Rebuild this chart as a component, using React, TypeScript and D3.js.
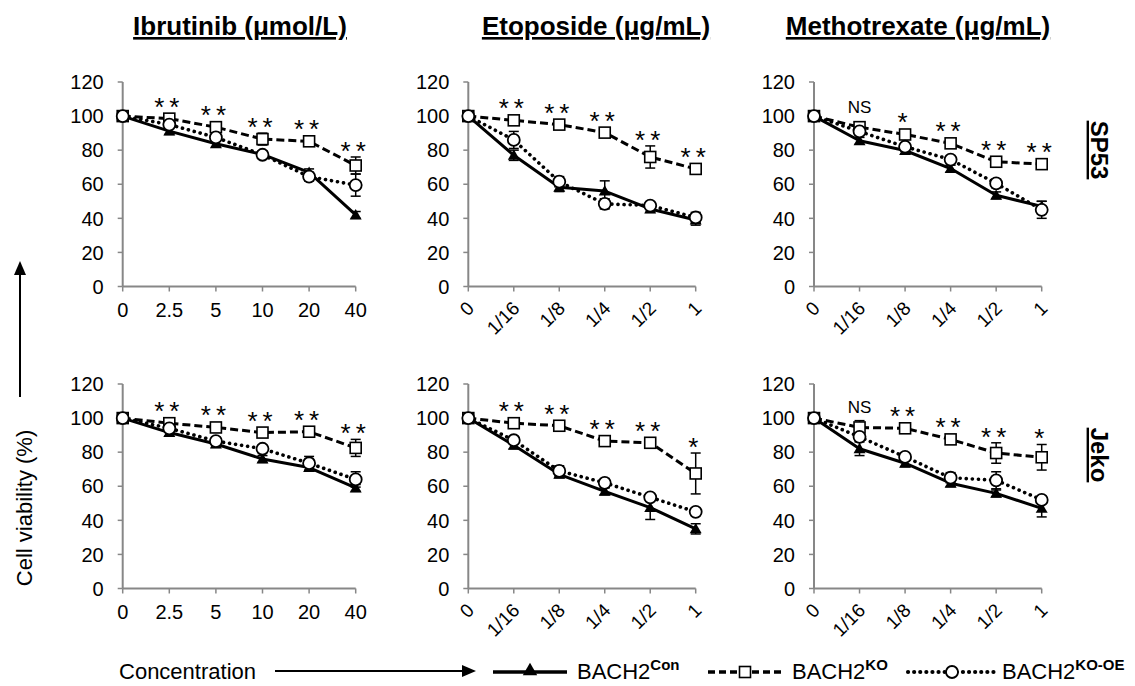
import React from 'react'
import * as d3 from 'd3'

// dose labels on the x axis
const ibrutinibDoses = ['0', '2.5', '5', '10', '20', '40']
const fractionDoses = ['0', '1/16', '1/8', '1/4', '1/2', '1']

const drugTitles = ['Ibrutinib (μmol/L)', 'Etoposide (μg/mL)', 'Methotrexate (μg/mL)']
const cellLines = ['SP53', 'Jeko']
const yTicks = [0, 20, 40, 60, 80, 100, 120]

// SP53
const sp53IbrCon = [100, 91.2, 83.8, 77.5, 67, 42]
const sp53IbrConErr = [0, 2, 2, 2, 2, 2]
const sp53IbrKo = [100, 98.5, 93.5, 86.5, 85.2, 71]
const sp53IbrKoErr = [0, 2, 2, 3.5, 2, 5]
const sp53IbrOe = [100, 95, 87.5, 77.3, 64.5, 59.5]
const sp53IbrOeErr = [0, 2, 2, 2, 2.5, 6.5]
const sp53IbrSig = ['', '**', '**', '**', '**', '**']

const sp53EtoCon = [100, 77, 58.2, 56, 45.5, 39]
const sp53EtoConErr = [0, 3, 2.5, 6, 2, 3]
const sp53EtoKo = [100, 97.5, 95, 90.3, 76, 69]
const sp53EtoKoErr = [0, 2, 1.5, 2, 6.5, 1.5]
const sp53EtoOe = [100, 86, 61.5, 48.5, 47.5, 40.5]
const sp53EtoOeErr = [0, 5, 3, 3, 2, 3]
const sp53EtoSig = ['', '**', '**', '**', '**', '**']

const sp53MtxCon = [100, 85.5, 79.8, 69.2, 53.5, 47]
const sp53MtxConErr = [0, 2, 2, 2, 2, 3]
const sp53MtxKo = [100, 93.5, 89.2, 84, 73.2, 71.8]
const sp53MtxKoErr = [0, 1.5, 1.5, 1.5, 1.5, 1.5]
const sp53MtxOe = [100, 91, 82, 74.5, 60.5, 45]
const sp53MtxOeErr = [0, 2, 2, 2, 2.5, 5]
const sp53MtxSig = ['', 'NS', '*', '**', '**', '**']

// Jeko
const jekoIbrCon = [100, 91.5, 84.8, 76, 71, 59]
const jekoIbrConErr = [0, 2, 2, 2, 2, 2]
const jekoIbrKo = [100, 97, 94.5, 91.5, 92, 82.5]
const jekoIbrKoErr = [0, 2, 1.5, 2, 1.5, 5]
const jekoIbrOe = [100, 94, 86.5, 82, 73.5, 64]
const jekoIbrOeErr = [0, 2, 2, 2, 4, 4.5]
const jekoIbrSig = ['', '**', '**', '**', '**', '**']

const jekoEtoCon = [100, 84, 67, 57, 47.5, 35]
const jekoEtoConErr = [0, 2, 2, 2, 7, 3]
const jekoEtoKo = [100, 97, 95.5, 86.5, 85.5, 67.5]
const jekoEtoKoErr = [0, 1.5, 1.5, 2, 1.5, 12]
const jekoEtoOe = [100, 87, 69, 62, 53.5, 45]
const jekoEtoOeErr = [0, 2, 3, 2.5, 2, 2]
const jekoEtoSig = ['', '**', '**', '**', '**', '*']

const jekoMtxCon = [100, 82, 73.5, 61.8, 55.8, 47]
const jekoMtxConErr = [3, 4, 2, 2, 2, 5]
const jekoMtxKo = [100, 94.5, 94, 87.5, 79.5, 77]
const jekoMtxKoErr = [3, 4, 1.5, 1.5, 6, 7.5]
const jekoMtxOe = [100, 89, 77.2, 65, 63.5, 52]
const jekoMtxOeErr = [2, 2, 2, 3, 5, 2]
const jekoMtxSig = ['', 'NS', '**', '**', '**', '*']

const panels = [
  { row: 0, col: 0, doses: ibrutinibDoses, con: sp53IbrCon, conErr: sp53IbrConErr, ko: sp53IbrKo, koErr: sp53IbrKoErr, oe: sp53IbrOe, oeErr: sp53IbrOeErr, sig: sp53IbrSig },
  { row: 0, col: 1, doses: fractionDoses, con: sp53EtoCon, conErr: sp53EtoConErr, ko: sp53EtoKo, koErr: sp53EtoKoErr, oe: sp53EtoOe, oeErr: sp53EtoOeErr, sig: sp53EtoSig },
  { row: 0, col: 2, doses: fractionDoses, con: sp53MtxCon, conErr: sp53MtxConErr, ko: sp53MtxKo, koErr: sp53MtxKoErr, oe: sp53MtxOe, oeErr: sp53MtxOeErr, sig: sp53MtxSig },
  { row: 1, col: 0, doses: ibrutinibDoses, con: jekoIbrCon, conErr: jekoIbrConErr, ko: jekoIbrKo, koErr: jekoIbrKoErr, oe: jekoIbrOe, oeErr: jekoIbrOeErr, sig: jekoIbrSig },
  { row: 1, col: 1, doses: fractionDoses, con: jekoEtoCon, conErr: jekoEtoConErr, ko: jekoEtoKo, koErr: jekoEtoKoErr, oe: jekoEtoOe, oeErr: jekoEtoOeErr, sig: jekoEtoSig },
  { row: 1, col: 2, doses: fractionDoses, con: jekoMtxCon, conErr: jekoMtxConErr, ko: jekoMtxKo, koErr: jekoMtxKoErr, oe: jekoMtxOe, oeErr: jekoMtxOeErr, sig: jekoMtxSig },
]

const W = 1135
const H = 686
const FONT = '"Liberation Sans", Arial, Helvetica, sans-serif'
const AXIS = '#878787'

const colX: [number, number][] = [[122.7, 355.7], [468.3, 695.7], [814, 1041.7]]
const rowY: [number, number][] = [[286.5, 82], [588.5, 384]]
const titleX = [240, 596, 918]
const sideY = [150, 455]

const lineStyles = {
  con: { dash: undefined as string | undefined, width: 3, cap: 'butt' },
  ko: { dash: '8 4', width: 3, cap: 'butt' },
  oe: { dash: '0.1 6', width: 3.6, cap: 'round' },
}

const triangle = d3.symbol(d3.symbolTriangle, 62)()
const bigTriangle = d3.symbol(d3.symbolTriangle, 90)()

function Marker({ kind, cx, cy }: { kind: string; cx: number; cy: number }) {
  if (kind === 'con') return <path d={triangle!} transform={`translate(${cx},${cy + 1})`} fill="#000" />
  if (kind === 'ko') return <rect x={cx - 5.5} y={cy - 5.5} width={11} height={11} fill="#fff" stroke="#000" strokeWidth={1.6} />
  return <circle cx={cx} cy={cy} r={6} fill="#fff" stroke="#000" strokeWidth={1.8} />
}

function Panel({ p }: { p: typeof panels[number] }) {
  const x = d3.scalePoint<string>().domain(p.doses).range(colX[p.col])
  const y = d3.scaleLinear().domain([0, 120]).range(rowY[p.row])
  const rotated = p.col > 0
  const y0 = y(0)
  const ax = colX[p.col][0]
  const line = d3.line<number>().x((_, i) => x(p.doses[i])!).y(v => y(v))

  const series = [
    { kind: 'con', vals: p.con, errs: p.conErr },
    { kind: 'ko', vals: p.ko, errs: p.koErr },
    { kind: 'oe', vals: p.oe, errs: p.oeErr },
  ]

  return (
    <g>
      {/* axes */}
      <line x1={ax} x2={ax} y1={y(0)} y2={y(120)} stroke={AXIS} strokeWidth={2} />
      <line x1={ax} x2={colX[p.col][1]} y1={y0} y2={y0} stroke={AXIS} strokeWidth={2} />
      {yTicks.map(t => (
        <g key={t}>
          <line x1={ax - 5} x2={ax} y1={y(t)} y2={y(t)} stroke={AXIS} strokeWidth={1.5} />
          <text x={ax - 19} y={y(t)} dy="0.36em" textAnchor="end" fontSize={20} fontFamily={FONT}>{t}</text>
        </g>
      ))}
      {p.doses.map(d => (
        <g key={d}>
          <line x1={x(d)} x2={x(d)} y1={y0} y2={y0 + 5} stroke={AXIS} strokeWidth={1.5} />
          {rotated ? (
            <text transform={`translate(${x(d)! + 7},${y0 + 23}) rotate(-45)`} textAnchor="end" fontSize={19} fontFamily={FONT}>{d}</text>
          ) : (
            <text x={x(d)} y={y0 + 30.5} textAnchor="middle" fontSize={20} fontFamily={FONT}>{d}</text>
          )}
        </g>
      ))}

      {/* lines */}
      {series.map(s => {
        const st = lineStyles[s.kind as keyof typeof lineStyles]
        return (
          <path key={s.kind} d={line(s.vals)!} fill="none" stroke="#000" strokeWidth={st.width}
            strokeDasharray={st.dash} strokeLinecap={st.cap as any} strokeLinejoin="round" />
        )
      })}

      {/* error bars */}
      {series.map(s => s.vals.map((v, i) => s.errs[i] > 0 ? (
        <g key={s.kind + i} stroke="#000" strokeWidth={1.5}>
          <line x1={x(p.doses[i])} x2={x(p.doses[i])} y1={y(v - s.errs[i])} y2={y(v + s.errs[i])} />
          <line x1={x(p.doses[i])! - 5} x2={x(p.doses[i])! + 5} y1={y(v + s.errs[i])} y2={y(v + s.errs[i])} />
          <line x1={x(p.doses[i])! - 5} x2={x(p.doses[i])! + 5} y1={y(v - s.errs[i])} y2={y(v - s.errs[i])} />
        </g>
      ) : null))}

      {/* markers */}
      {series.map(s => s.vals.map((v, i) => (
        <Marker key={s.kind + i} kind={s.kind} cx={x(p.doses[i])!} cy={y(v)} />
      )))}

      {/* significance */}
      {p.sig.map((label, i) => {
        if (!label) return null
        const top = d3.min(series, s => Math.min(y(s.vals[i] + s.errs[i]), y(s.vals[i]) - 6))!
        const cy = top - 12
        const cx = x(p.doses[i])!
        if (label === 'NS') {
          return <text key={i} x={cx} y={cy + 4} textAnchor="middle" fontSize={17} fontFamily={FONT}>NS</text>
        }
        return (
          <text key={i} x={cx} y={cy + 15} textAnchor="middle" fontSize={26} letterSpacing={5} fontFamily={FONT}>{label}</text>
        )
      })}
    </g>
  )
}

const legendItems = [
  { kind: 'con', sup: 'Con', x0: 493, x1: 567, mx: 530, tx: 577 },
  { kind: 'ko', sup: 'KO', x0: 708, x1: 785, mx: 745, tx: 792 },
  { kind: 'oe', sup: 'KO-OE', x0: 908, x1: 997, mx: 952, tx: 1002 },
]

export default function App() {
  const legY = 672
  const legBase = 679
  return (
    <svg width={W} height={H} style={{ position: 'absolute', left: 0, top: 0, background: '#fff' }}>
      {drugTitles.map((t, i) => (
        <text key={t} x={titleX[i]} y={35} textAnchor="middle" fontSize={26} fontWeight="bold"
          fontFamily={FONT} textDecoration="underline">{t}</text>
      ))}
      {cellLines.map((c, i) => (
        <text key={c} transform={`translate(1091,${sideY[i]}) rotate(90)`} textAnchor="middle" fontSize={24}
          fontWeight="bold" fontFamily={FONT} textDecoration="underline">{c}</text>
      ))}

      {panels.map((p, i) => <Panel key={i} p={p} />)}

      {/* y axis label with arrow */}
      <text transform="translate(32,508) rotate(-90)" textAnchor="middle" fontSize={22} fontFamily={FONT}>Cell viability (%)</text>
      <line x1={20} x2={20} y1={397} y2={272} stroke="#000" strokeWidth={2} />
      <polygon points="14,275 20,261 26,275" fill="#000" />

      {/* x label with arrow */}
      <text x={256} y={legBase} textAnchor="end" fontSize={22} fontFamily={FONT}>Concentration</text>
      <line x1={275} x2={465} y1={legY - 1} y2={legY - 1} stroke="#000" strokeWidth={2} />
      <polygon points={`462,${legY - 7} 476,${legY - 1} 462,${legY + 5}`} fill="#000" />

      {/* legend */}
      {legendItems.map(it => {
        const st = lineStyles[it.kind as keyof typeof lineStyles]
        return (
          <g key={it.kind}>
            <line x1={it.x0} x2={it.x1} y1={legY} y2={legY} stroke="#000" strokeWidth={st.width + 0.5}
              strokeDasharray={it.kind === 'ko' ? '7 4' : st.dash} strokeLinecap={st.cap as any} />
            {it.kind === 'con'
              ? <path d={bigTriangle!} transform={`translate(${it.mx},${legY - 1})`} fill="#000" />
              : <Marker kind={it.kind} cx={it.mx} cy={legY} />}
            <text x={it.tx} y={legBase} fontSize={22} fontFamily={FONT}>
              BACH2<tspan fontSize={15} fontWeight="bold" dy={-9}>{it.sup}</tspan>
            </text>
          </g>
        )
      })}
    </svg>
  )
}
